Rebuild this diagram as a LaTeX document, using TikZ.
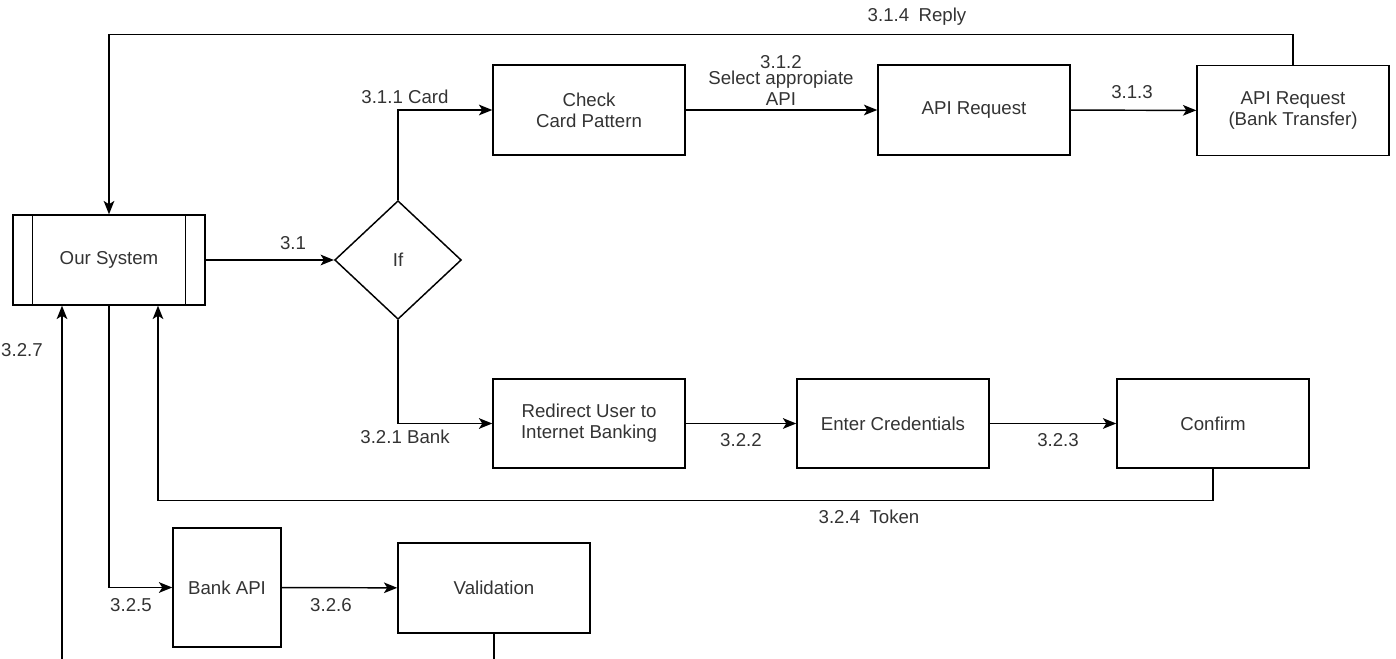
\documentclass[tikz,border=0pt]{standalone}
\usepackage{fontspec}
\setmainfont{Liberation Sans}
\usetikzlibrary{shapes.geometric,arrows.meta}
\tikzset{
  box/.style={draw,line width=1.1pt,minimum width=144pt,minimum height=67.5pt,align=center,inner sep=2pt,text=black!80},
  flow/.style={line width=1.1pt,-{Stealth[length=10pt,width=8pt,inset=2.5pt]}},
  line/.style={line width=1.1pt},
  lbl/.style={text=black!80,align=center,inner sep=0pt}
}
\begin{document}
\begin{tikzpicture}[x=0.75pt,y=-0.75pt,font=\fontsize{14}{16}\selectfont]
  \useasboundingbox (0,0) rectangle (1396,659);
  % boxes
  \node[box] (sys) at (109,260) {Our System};
  \draw[line] ([xshift=15pt]sys.north west) -- ([xshift=15pt]sys.south west);
  \draw[line] ([xshift=-15pt]sys.north east) -- ([xshift=-15pt]sys.south east);
  \node[draw,line width=1.1pt,diamond,aspect=1.07,minimum width=95pt,minimum height=89pt,inner sep=0pt,text=black!80] (cond) at (398,260) {If};
  \node[box] (check) at (589,110) {Check\\Card Pattern};
  \node[box] (apireq) at (974,110) {API Request};
  \node[box] (transfer) at (1293,110.5) {API Request\\(Bank Transfer)};
  \node[box,minimum height=66.75pt] (redirect) at (589,423.5) {Redirect User to\\Internet Banking};
  \node[box,minimum height=66.75pt] (cred) at (893,423.5) {Enter Credentials};
  \node[box,minimum height=66.75pt] (confirm) at (1213,423.5) {Confirm};
  \node[box,minimum width=81pt,minimum height=89.25pt] (bankapi) at (227,587.5) {Bank API};
  \node[box] (valid) at (494,588) {Validation};
  % card branch
  \draw[flow] (sys) -- (cond);
  \draw[flow] (cond.north) |- (check.west);
  \draw[flow] (check) -- (apireq);
  \draw[flow] (apireq) -- (transfer);
  \draw[flow] (transfer.north) -- ++(0,-30) -| (sys.north);
  % bank branch
  \draw[flow] (cond.south) |- (redirect.west);
  \draw[flow] (redirect) -- (cred);
  \draw[flow] (cred) -- (confirm);
  \draw[flow] (confirm.south) -- ++(0,32) -| ([xshift=36.75pt]sys.south);
  \draw[flow] (sys.south) |- (bankapi.west);
  \draw[flow] (bankapi) -- (valid);
  \coordinate (vout) at (494,660);
  \coordinate (sin) at (62,660);
  \draw[line] (valid.south) -- (vout);
  \draw[flow] (sin) -- (sin |- sys.south);
  % labels
  \node[lbl] (l31) at (293,243) {3.1};
  \node[lbl] (l311) at (405,97) {3.1.1 Card};
  \node[lbl] (l312) at (781,62) {3.1.2};
  \node[lbl,font=\fontsize{14}{15.4}\selectfont] (l312b) at (781,88) {Select appropiate\\API};
  \node[lbl] (l313) at (1132,92) {3.1.3};
  \node[lbl] (l314) at (917,17) {3.1.4\enspace Reply};
  \node[lbl] (l321) at (405,437) {3.2.1 Bank};
  \node[lbl] (l322) at (741,440) {3.2.2};
  \node[lbl] (l323) at (1058,440) {3.2.3};
  \node[lbl] (l324) at (869,517) {3.2.4\enspace Token};
  \node[lbl] (l325) at (131,605) {3.2.5};
  \node[lbl] (l326) at (331,605) {3.2.6};
  \node[lbl] (l327) at (22,350) {3.2.7};
\end{tikzpicture}
\end{document}
